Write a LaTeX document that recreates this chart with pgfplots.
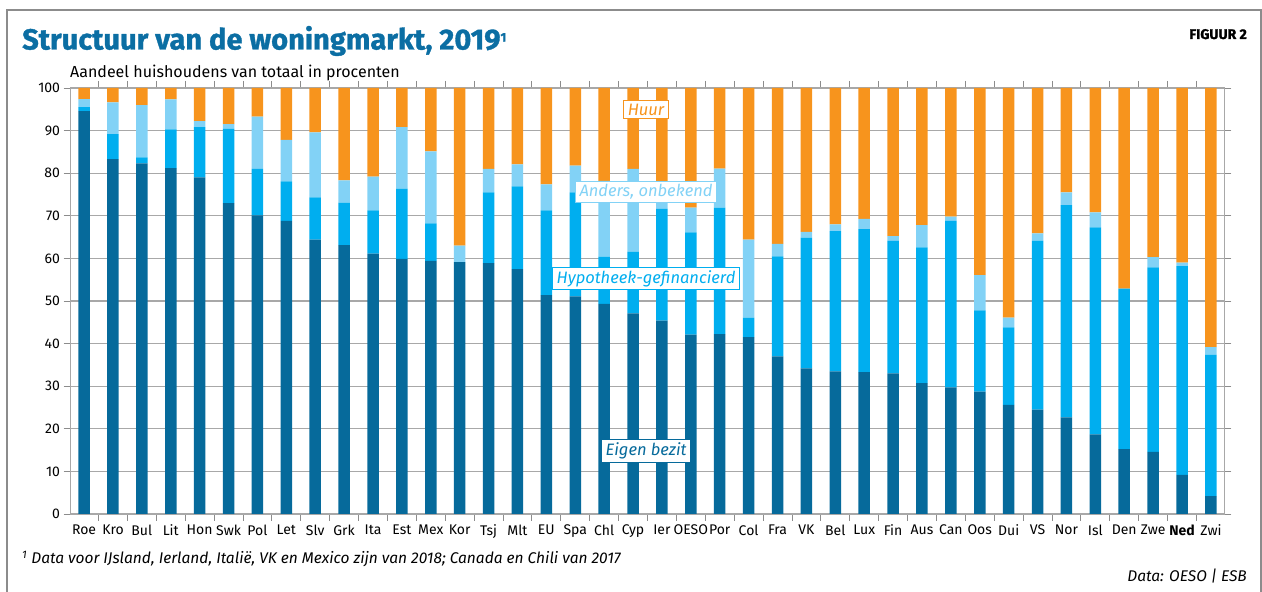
\documentclass[border=0pt]{standalone}
\usepackage{pgfplots}
\pgfplotsset{compat=1.18}
\usepackage{pgfplotstable}
\usepackage{fontspec}
\setmainfont{Fira Sans}
\definecolor{eigen}{HTML}{066A9B}
\definecolor{hyp}{HTML}{00AEEF}
\definecolor{anders}{HTML}{82D2F6}
\definecolor{huur}{HTML}{F7941D}
\definecolor{titleblue}{HTML}{0B6EA3}
\definecolor{gridgrey}{HTML}{A8A8A8}
\definecolor{framegrey}{HTML}{8C8C8C}

\pgfplotstableread{
x e h a r
0 94.6 0.9 1.9 2.6
1 83.3 5.9 7.4 3.4
2 82.3 1.4 12.3 4.0
3 81.2 9.1 7.0 2.7
4 79.0 11.8 1.4 7.8
5 73.0 17.4 1.1 8.5
6 70.1 10.9 12.3 6.7
7 68.8 9.3 9.7 12.2
8 64.4 9.9 15.3 10.4
9 63.1 10.0 5.2 21.7
10 61.1 10.2 7.9 20.8
11 59.9 16.5 14.4 9.2
12 59.4 8.8 16.9 14.9
13 59.1 0.0 3.9 37.0
14 58.9 16.6 5.5 19.0
15 57.5 19.4 5.2 17.9
16 51.4 19.9 6.1 22.6
17 51.1 24.4 6.3 18.2
18 49.3 11.1 17.8 21.8
19 47.1 14.5 19.4 19.0
20 45.4 26.2 1.5 26.9
21 42.1 24.0 5.8 28.1
22 42.2 29.7 9.2 18.9
23 41.5 4.6 18.3 35.6
24 37.0 23.5 2.9 36.6
25 34.2 30.7 1.3 33.8
26 33.5 32.9 1.6 32.0
27 33.3 33.6 2.4 30.7
28 33.0 31.1 1.1 34.8
29 30.7 31.9 5.2 32.2
30 29.7 39.1 1.0 30.2
31 28.7 19.1 8.3 43.9
32 25.6 18.2 2.3 53.9
33 24.5 39.7 1.7 34.1
34 22.7 49.8 3.0 24.5
35 18.7 48.6 3.5 29.2
36 15.2 37.7 0.0 47.1
37 14.6 43.3 2.4 39.7
38 9.2 49.0 0.8 41.0
39 4.2 33.2 1.8 60.8
}\data

\begin{document}
\begin{tikzpicture}[x=1pt,y=1pt]
\useasboundingbox (0,0) rectangle (1262,592);
\draw[framegrey, line width=1.2pt] (7,-5) -- (7,582) -- (1261,582) -- (1261,-5);
\node[anchor=base west, inner sep=0pt, text=titleblue] at (22,542.5)
  {\resizebox{484pt}{!}{\fontsize{33}{33}\selectfont\bfseries\addfontfeatures{FakeBold=1.2}Structuur van de woningmarkt, 2019\raisebox{9pt}{\fontsize{14}{14}\selectfont 1}}};
\node[anchor=base east, inner sep=0pt, font=\bfseries\fontsize{14}{14}\selectfont] at (1247,553) {\addfontfeatures{FakeBold=1.5}FIGUUR 2};
\node[anchor=base west, inner sep=0pt, font=\fontsize{16}{16}\selectfont] at (70,514) {Aandeel huishoudens van totaal in procenten};
\node[anchor=base west, inner sep=0pt, font=\itshape\fontsize{15.5}{15.5}\selectfont] at (22,28)
  {\textsuperscript{1} Data voor IJsland, Ierland, Italië, VK en Mexico zijn van 2018; Canada en Chili van 2017};
\node[anchor=base east, inner sep=0pt, font=\itshape\fontsize{15.5}{15.5}\selectfont] at (1247,10.5) {Data: OESO | ESB};
\begin{axis}[
  at={(70.5pt,78pt)}, anchor=south west, scale only axis,
  width=1154pt, height=426pt,
  xmin=-0.47, xmax=39.47, ymin=0, ymax=100,
  ybar stacked, bar width=11.5pt,
  axis line style={gridgrey, line width=1.2pt},
  ytick={0,10,...,100},
  ymajorgrids, grid style={gridgrey, line width=1.2pt},
  tick align=outside,
  major tick length=7pt,
  tick style={framegrey, line width=0.9pt},
  xtick={0.5,1.5,...,38.5},
  xticklabels={},
  extra x ticks={0,...,39},
  extra x tick labels={Roe,Kro,Bul,Lit,Hon,Swk,Pol,Let,Slv,Grk,Ita,Est,Mex,Kor,Tsj,Mlt,EU,Spa,Chl,Cyp,Ier,OESO,Por,Col,Fra,VK,Bel,Lux,Fin,Aus,Can,Oos,Dui,VS,Nor,Isl,Den,Zwe,\textbf{Ned},Zwi},
  extra x tick style={tick style={draw=none}},
  ticklabel style={font=\fontsize{14}{14}\selectfont},
  /pgf/number format/assume math mode=true,
  clip=false,
]
\addplot[fill=eigen, draw=none] table[x=x,y=e] {\data};
\addplot[fill=hyp, draw=none] table[x=x,y=h] {\data};
\addplot[fill=anders, draw=none] table[x=x,y=a] {\data};
\addplot[fill=huur, draw=none] table[x=x,y=r] {\data};
\coordinate (lhuur) at (axis cs:19.45,94.9);
\coordinate (landers) at (axis cs:19.45,75.6);
\coordinate (lhyp) at (axis cs:19.45,55.3);
\coordinate (leigen) at (axis cs:19.45,14.8);
\end{axis}
\tikzset{lbl/.style={fill=white, line width=1.1pt, inner xsep=4pt, inner ysep=3pt, font=\itshape\fontsize{16.5}{16.5}\selectfont}}
\node[lbl, draw=huur, text=huur] at (lhuur) {Huur};
\node[lbl, draw=anders, text=anders] at (landers) {Anders, onbekend};
\node[lbl, draw=hyp, text=hyp] at (lhyp) {Hypotheek-gefinancierd};
\node[lbl, draw=eigen, text=eigen] at (leigen) {Eigen bezit};
\end{tikzpicture}
\end{document}
